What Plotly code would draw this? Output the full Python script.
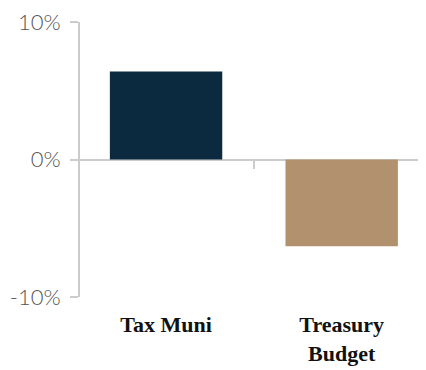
import plotly.graph_objects as go

categories = ["Tax Muni", "Treasury<br>Budget"]
values = [6.4, -6.3]
bar_colors = ["#0c2a3f", "#b2916f"]
y_ticks = [-10, 0, 10]
y_tick_labels = ["-10%", "0%", "10%"]

fig = go.Figure()
fig.add_trace(go.Bar(
    x=categories, y=values,
    marker=dict(color=bar_colors, line=dict(width=0)),
    width=0.64, hoverinfo="skip",
))
fig.add_trace(go.Scatter(
    x=categories, y=values, xaxis="x2", mode="markers",
    marker=dict(opacity=0), hoverinfo="skip", showlegend=False,
))

fig.update_layout(
    width=426, height=370,
    margin=dict(l=72, r=8, t=14, b=81, autoexpand=False),
    paper_bgcolor="white", plot_bgcolor="white",
    showlegend=False,
    xaxis=dict(
        type="category", categoryorder="array", categoryarray=categories,
        range=[-0.49, 1.48], showline=False, showgrid=False, zeroline=False,
        ticks="outside", ticklen=8, tickcolor="rgba(0,0,0,0)",
        tickfont=dict(family="Liberation Serif", size=22, color="#111111", weight="bold"),
        ticklabeloverflow="allow",
    ),
    xaxis2=dict(
        type="category", categoryorder="array", categoryarray=categories,
        range=[-0.49, 1.48], overlaying="x", anchor="free", position=0.5,
        side="bottom", showline=False, showgrid=False, zeroline=False,
        showticklabels=False, ticks="outside", tickson="boundaries",
        ticklen=8, tickwidth=2, tickcolor="#cccccc",
    ),
    yaxis=dict(
        range=[-10, 10], tickvals=y_ticks, ticktext=y_tick_labels,
        showgrid=False, showline=True, linecolor="#cccccc", linewidth=2,
        zeroline=True, zerolinecolor="#cccccc", zerolinewidth=2,
        ticks="outside", ticklen=8, tickwidth=2, tickcolor="#cccccc",
        ticklabelstandoff=5, ticklabeloverflow="allow",
        tickfont=dict(family="Lato", size=22, color="#555555", weight=300),
    ),
)

fig.write_html("out.html")
